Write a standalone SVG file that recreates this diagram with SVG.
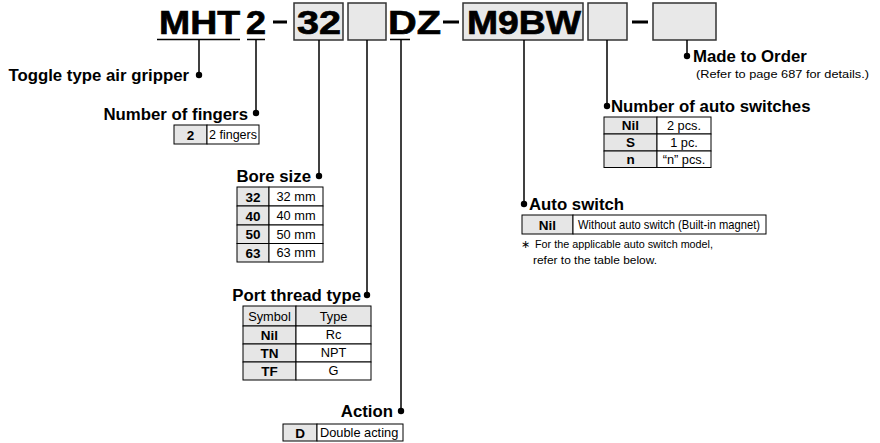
<svg xmlns="http://www.w3.org/2000/svg" width="880" height="443" viewBox="0 0 880 443">
<style>
.big{font-family:"Liberation Sans",Arial,sans-serif;font-weight:bold;font-size:34px;fill:#000;stroke:#000;stroke-width:0.7}
.h{font-family:"Liberation Sans",Arial,sans-serif;font-weight:bold;font-size:16.8px;fill:#000}
.sym{font-family:"Liberation Sans",Arial,sans-serif;font-weight:bold;font-size:13.5px;fill:#000;text-anchor:middle}
.val{font-family:"Liberation Sans",Arial,sans-serif;font-size:12.8px;fill:#000}
.note{font-family:"Liberation Sans",Arial,sans-serif;font-size:11px;fill:#000}
.box{fill:#e8e8e8;stroke:#333;stroke-width:1.5}
.g{fill:#e6e6e6;stroke:#000;stroke-width:1}
.w{fill:#fff;stroke:#000;stroke-width:1}
.ln{stroke:#000;stroke-width:1.5;fill:none}
.mid{text-anchor:middle}
.end{text-anchor:end}
</style>
<g id="header">
<rect class="box" x="294" y="3" width="49" height="37"/>
<rect class="box" x="348" y="3" width="38" height="37"/>
<rect class="box" x="463" y="3" width="120" height="37"/>
<rect class="box" x="588" y="3" width="39" height="37"/>
<rect class="box" x="653" y="3" width="63" height="37"/>
<text class="big" x="159" y="34" textLength="81" lengthAdjust="spacingAndGlyphs">MHT</text>
<text class="big" x="246" y="34" textLength="20" lengthAdjust="spacingAndGlyphs">2</text>
<text class="big" x="297" y="34" textLength="44" lengthAdjust="spacingAndGlyphs">32</text>
<text class="big" x="388" y="34" textLength="53" lengthAdjust="spacingAndGlyphs">DZ</text>
<text class="big" x="467" y="34" textLength="114" lengthAdjust="spacingAndGlyphs">M9BW</text>
<rect x="273" y="20.5" width="14" height="3" fill="#000"/>
<rect x="443" y="20.5" width="16" height="3" fill="#000"/>
<rect x="632" y="20.5" width="16" height="3" fill="#000"/>
</g>
<g id="connectors">
<line class="ln" x1="157" y1="39.5" x2="240" y2="39.5"/>
<line class="ln" x1="247" y1="39.5" x2="265" y2="39.5"/>
<line class="ln" x1="390" y1="39.5" x2="410" y2="39.5"/>
<line class="ln" x1="199" y1="40" x2="199" y2="75"/>
<line class="ln" x1="256" y1="40" x2="256" y2="113"/>
<line class="ln" x1="319" y1="40" x2="319" y2="176"/>
<line class="ln" x1="367" y1="40" x2="367" y2="295"/>
<line class="ln" x1="401" y1="40" x2="401" y2="411"/>
<line class="ln" x1="524" y1="40" x2="524" y2="204"/>
<line class="ln" x1="607" y1="40" x2="607" y2="106"/>
<line class="ln" x1="687" y1="40" x2="687" y2="56"/>
<circle cx="199" cy="75" r="3.2"/>
<circle cx="256" cy="113" r="3.2"/>
<circle cx="319" cy="176" r="3.2"/>
<circle cx="367" cy="295" r="3.2"/>
<circle cx="401" cy="411" r="3.2"/>
<circle cx="524" cy="204" r="3.2"/>
<circle cx="607" cy="106" r="3.2"/>
<circle cx="687" cy="56" r="3.2"/>
</g>
<g id="toggle">
<text class="h end" x="189" y="81">Toggle type air gripper</text>
</g>
<g id="fingers">
<text class="h end" x="248" y="120">Number of fingers</text>
<rect class="g" x="174" y="125" width="33" height="19"/>
<rect class="w" x="207" y="125" width="52" height="19"/>
<text class="sym" x="190.5" y="139.5">2</text>
<text class="val" x="209" y="139" textLength="48" lengthAdjust="spacingAndGlyphs">2 fingers</text>
</g>
<g id="bore">
<text class="h end" x="311" y="182">Bore size</text>
<rect class="g" x="237" y="187" width="32" height="19"/>
<rect class="w" x="269" y="187" width="54" height="19"/>
<rect class="g" x="237" y="206" width="32" height="19"/>
<rect class="w" x="269" y="206" width="54" height="19"/>
<rect class="g" x="237" y="225" width="32" height="18.5"/>
<rect class="w" x="269" y="225" width="54" height="18.5"/>
<rect class="g" x="237" y="243.5" width="32" height="18.5"/>
<rect class="w" x="269" y="243.5" width="54" height="18.5"/>
<text class="sym" x="253" y="201.5">32</text>
<text class="sym" x="253" y="220.5">40</text>
<text class="sym" x="253" y="239">50</text>
<text class="sym" x="253" y="257.5">63</text>
<text class="val mid" x="296" y="201">32 mm</text>
<text class="val mid" x="296" y="220">40 mm</text>
<text class="val mid" x="296" y="238.5">50 mm</text>
<text class="val mid" x="296" y="257">63 mm</text>
</g>
<g id="port">
<text class="h end" x="361" y="301">Port thread type</text>
<rect class="g" x="243" y="306" width="53" height="20"/>
<rect class="g" x="296" y="306" width="75" height="20"/>
<rect class="g" x="243" y="326" width="53" height="18"/>
<rect class="w" x="296" y="326" width="75" height="18"/>
<rect class="g" x="243" y="344" width="53" height="18"/>
<rect class="w" x="296" y="344" width="75" height="18"/>
<rect class="g" x="243" y="362" width="53" height="18"/>
<rect class="w" x="296" y="362" width="75" height="18"/>
<text class="val mid" x="269.5" y="320.5">Symbol</text>
<text class="val mid" x="333.5" y="320.5">Type</text>
<text class="sym" x="269.5" y="339.5">Nil</text>
<text class="sym" x="269.5" y="357.5">TN</text>
<text class="sym" x="269.5" y="375.5">TF</text>
<text class="val mid" x="333.5" y="339">Rc</text>
<text class="val mid" x="333.5" y="357">NPT</text>
<text class="val mid" x="333.5" y="375">G</text>
</g>
<g id="action">
<text class="h end" x="393" y="417">Action</text>
<rect class="g" x="283" y="424" width="34" height="17"/>
<rect class="w" x="317" y="424" width="86" height="17"/>
<text class="sym" x="300" y="437.5">D</text>
<text class="val" x="320" y="437">Double acting</text>
</g>
<g id="autoswitch">
<text class="h" x="529" y="210">Auto switch</text>
<rect class="g" x="522" y="215" width="51" height="19"/>
<rect class="w" x="573" y="215" width="193" height="19"/>
<text class="sym" x="547.5" y="229.5">Nil</text>
<text class="val" x="578" y="229" textLength="182" lengthAdjust="spacingAndGlyphs">Without auto switch (Built-in magnet)</text>
<text class="note" x="521" y="248" fill="#666">∗</text>
<text class="note" x="535" y="248" textLength="178" lengthAdjust="spacingAndGlyphs">For the applicable auto switch model,</text>
<text class="note" x="533" y="264" textLength="124" lengthAdjust="spacingAndGlyphs">refer to the table below.</text>
</g>
<g id="numswitches">
<text class="h" x="611" y="112">Number of auto switches</text>
<rect class="g" x="604" y="117" width="53" height="17"/>
<rect class="w" x="657" y="117" width="54" height="17"/>
<rect class="g" x="604" y="134" width="53" height="17"/>
<rect class="w" x="657" y="134" width="54" height="17"/>
<rect class="g" x="604" y="151" width="53" height="16.5"/>
<rect class="w" x="657" y="151" width="54" height="16.5"/>
<text class="sym" x="630.5" y="130">Nil</text>
<text class="sym" x="630.5" y="147">S</text>
<text class="sym" x="630.5" y="164">n</text>
<text class="val mid" x="684" y="130">2 pcs.</text>
<text class="val mid" x="684" y="147">1 pc.</text>
<text class="val mid" x="684" y="164">“n” pcs.</text>
</g>
<g id="madetoorder">
<text class="h" x="693" y="62">Made to Order</text>
<text class="val" x="696" y="78" style="font-size:11.5px" textLength="173" lengthAdjust="spacingAndGlyphs">(Refer to page 687 for details.)</text>
</g>
</svg>
